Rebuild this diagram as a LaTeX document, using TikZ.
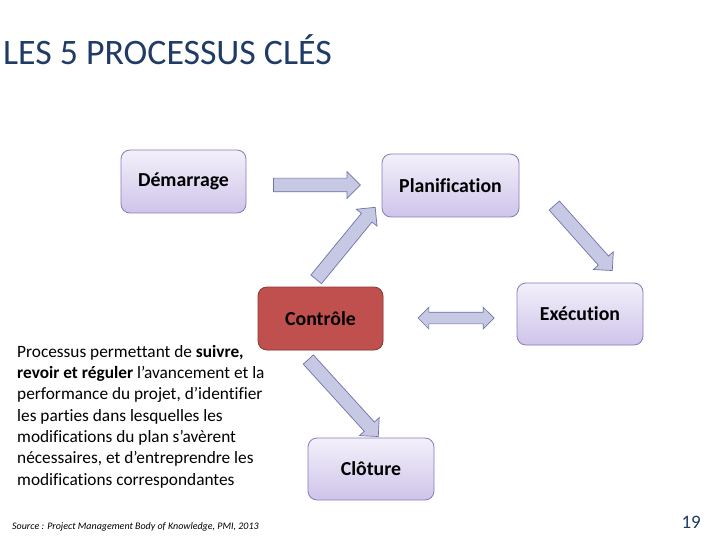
\documentclass[tikz,border=0pt]{standalone}
\usepackage{fontspec}
\setmainfont{Carlito}[Ligatures=NoCommon]
\usetikzlibrary{shapes.arrows,calc}

\definecolor{titleblue}{HTML}{1F3B66}
\definecolor{boxedge}{HTML}{8A7AB8}
\definecolor{boxtop}{HTML}{F3F0FA}
\definecolor{boxbot}{HTML}{CFC4EA}
\definecolor{ctrlfill}{HTML}{C0504D}
\definecolor{ctrledge}{HTML}{8C3A38}
\definecolor{arrfill}{HTML}{C6C8E4}
\definecolor{arredge}{HTML}{6E74A8}

% block arrow between two named points
\newcommand\blockarrow[4][single arrow]{%
  \path let \p1=($(#4)-(#3)$), \n1={atan2(\y1,\x1)}, \n2={veclen(\x1,\y1)} in
    node[barrow, #1, minimum height=\n2, rotate=\n1] (#2) at ($(#3)!0.5!(#4)$) {};}

\begin{document}
\begin{tikzpicture}[
    x=1pt, y=-1pt,
    box/.style    = {draw=boxedge, line width=0.8pt, rounded corners=9pt,
                     top color=boxtop, bottom color=boxbot,
                     minimum width=125pt, minimum height=63pt,
                     font=\fontsize{19.8}{22}\selectfont\bfseries},
    ctrlbox/.style = {box, fill=ctrlfill, draw=ctrledge, top color=ctrlfill, bottom color=ctrlfill},
    barrow/.style = {draw=arredge, fill=arrfill, line width=0.7pt,
                     inner xsep=0pt, inner ysep=6.5pt, single arrow head extend=6.5pt},
    dbarrow/.style = {double arrow, inner ysep=5.5pt, double arrow head extend=5pt},
    body/.style   = {anchor=north west, align=left, inner sep=0pt,
                     font=\fontsize{17.3}{21.3}\selectfont},
]
\useasboundingbox[fill=white] (0,0) rectangle (720,540);

% ---------------- Title ----------------
\node[anchor=west, inner sep=0pt, text=titleblue, font=\fontsize{35.8}{38}\selectfont]
  (title) at (3,50) {LES 5 PROCESSUS CLÉS};

% ---------------- Processes ----------------
\node[box, minimum width=125pt] (dem)  at (183.5,181.5) {Démarrage};
\node[box, minimum width=137pt] (plan) at (450.5,185.5) {Planification};
\node[ctrlbox]                  (ctrl) at (320.5,318.5) {Contrôle};
\node[box, minimum width=126pt, minimum height=62pt] (exec) at (580,314) {Exécution};
\node[box, minimum width=126pt, minimum height=62pt] (clot) at (371,469) {Clôture};

% ---------------- Arrow ends ----------------
\coordinate (a1s) at (270,185);  \coordinate (a1e) at (357,185);
\coordinate (a2s) at (314,282);  \coordinate (a2e) at (373,210);
\coordinate (a3s) at (552,203);  \coordinate (a3e) at (610,268);
\coordinate (a4s) at (418,318);  \coordinate (a4e) at (494,318);
\coordinate (a5s) at (306,357);  \coordinate (a5e) at (376,434);

\blockarrow{demplan}{a1s}{a1e}
\blockarrow{ctrlplan}{a2s}{a2e}
\blockarrow{planexec}{a3s}{a3e}
\blockarrow[dbarrow]{ctrlexec}{a4s}{a4e}
\blockarrow{ctrlclot}{a5s}{a5e}

% ---------------- Description ----------------
\node[body] (desc) at (17,345)
  {Processus permettant de \textbf{suivre,}\\
   \textbf{revoir et réguler} l’avancement et la\\
   performance du projet, d’identifier\\
   les parties dans lesquelles les\\
   modifications du plan s’avèrent\\
   nécessaires, et d’entreprendre les\\
   modifications correspondantes};

\node[anchor=west, inner sep=0pt, font=\fontsize{10}{12}\selectfont\itshape]
  (src) at (12,527) {Source : Project Management Body of Knowledge, PMI, 2013};

\node[anchor=east, inner sep=0pt, text=titleblue, font=\fontsize{19}{21}\selectfont]
  (page) at (701,522) {19};

\end{tikzpicture}
\end{document}
